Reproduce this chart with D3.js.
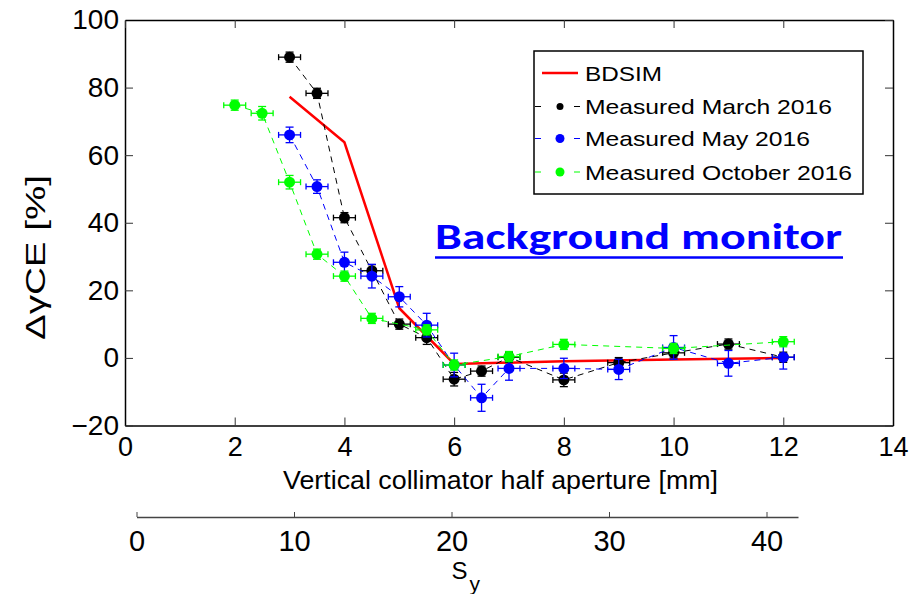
<!DOCTYPE html>
<html>
<head>
<meta charset="utf-8">
<script src="https://cdn.jsdelivr.net/npm/d3@7"></script>
<style>
  body { margin: 0; background: #fff; }
  svg { display: block; font-family: "Liberation Sans", Arial, Helvetica, sans-serif; }
</style>
</head>
<body>
<div id="dataViz"></div>
<script>
const width = 914;
const height = 594;
const margin = { top: 20, right: 21, bottom: 168.5, left: 125 };

// BDSIM simulation
const simX = [3, 4, 5, 6, 8, 10, 12];
const simY = [77.3, 63.8, 14.7, -1.8, -1.0, -0.5, 0];

// Measured March 2016
const marchX = [3, 3.5, 4, 4.5, 5, 5.5, 6, 6.5, 7, 8, 9, 10, 11, 12];
const marchY = [89, 78.3, 41.5, 25.8, 10, 6, -6.3, -3.9, 0.2, -6.5, -1.4, 1.5, 4.1, 0.2];
const marchErr = [1.5, 1.5, 1.5, 1.8, 1.5, 2, 2, 1.5, 1.5, 2, 1.5, 1.5, 1.5, 1.5];

// Measured May 2016
const mayX = [3, 3.5, 4, 4.5, 5, 5.5, 6, 6.5, 7, 8, 9, 10, 11, 12];
const mayY = [66, 50.7, 28.3, 24.2, 18.1, 9.7, -2.1, -11.8, -3.1, -3.1, -3.4, 3.1, -1.6, 0.2];
const mayErr = [2.3, 2, 3, 3.5, 3, 3.5, 3.5, 4, 3.5, 3, 3, 3.5, 3.8, 3.5];

// Measured October 2016
const octX = [2, 2.5, 3, 3.5, 4, 4.5, 5.5, 6, 7, 8, 10, 12];
const octY = [74.8, 72.4, 52, 30.7, 24.2, 11.7, 8.3, -2.1, 0.4, 4, 2.8, 4.8];
const octErr = [1.5, 2, 2, 1.5, 1.5, 1.5, 1.5, 1.5, 1.5, 1.5, 1.5, 1.5];

const xErr = 0.2;

const xTicks = [0, 2, 4, 6, 8, 10, 12, 14];
const yTicks = [-20, 0, 20, 40, 60, 80, 100];
const sigmaTicks = [0, 10, 20, 30, 40];

const colours = {
  sim: "#ff0000",
  march: "#000000",
  may: "#0000ff",
  oct: "#00ff00",
  title: "#0000ff"
};

const container = d3.select("#dataViz");
const svg = container.append("svg")
  .attr("width", width)
  .attr("height", height)
  .attr("viewBox", [0, 0, width, height]);

const xScale = d3.scaleLinear()
  .domain([0, 14])
  .range([margin.left, width - margin.right]);

const yScale = d3.scaleLinear()
  .domain([-20, 100])
  .range([height - margin.bottom, margin.top]);

// second axis in units of beam sigma
const sScale = d3.scaleLinear()
  .domain([0, 42])
  .range([136.5, 798]);

const plotBottom = height - margin.bottom;

// Axes (matlab style box, inward ticks)
const xAxis = d3.axisBottom(xScale).tickValues(xTicks).tickSizeInner(-8).tickSizeOuter(0).tickPadding(11);
const yAxis = d3.axisLeft(yScale).tickValues(yTicks)
  .tickSizeInner(-8).tickSizeOuter(0).tickPadding(6)
  .tickFormat(d => d < 0 ? "\u2212" + Math.abs(d) : d);
const xAxisTop = d3.axisTop(xScale).tickValues(xTicks).tickSizeInner(-8).tickSizeOuter(0).tickFormat("");
const yAxisRight = d3.axisRight(yScale).tickValues(yTicks).tickSizeInner(-8).tickSizeOuter(0).tickFormat("");

svg.append("g")
  .attr("class", "x-axis")
  .attr("transform", `translate(0, ${plotBottom})`)
  .call(xAxis)
  .selectAll("text")
  .style("font-size", "27px")
  .attr("fill", "#000");

svg.append("g")
  .attr("class", "y-axis")
  .attr("transform", `translate(${margin.left}, 0)`)
  .call(yAxis)
  .selectAll("text")
  .style("font-size", "28px")
  .attr("fill", "#000");

svg.append("g")
  .attr("transform", `translate(0, ${margin.top})`)
  .call(xAxisTop);

svg.append("g")
  .attr("transform", `translate(${width - margin.right}, 0)`)
  .call(yAxisRight);

svg.selectAll(".domain").attr("stroke", "#000").attr("stroke-width", 1.5);
svg.selectAll(".tick line").attr("stroke", "#333");

// BDSIM line
const simData = simX.map((x, i) => ({ x: x, y: simY[i] }));
const line = d3.line()
  .x(d => xScale(d.x))
  .y(d => yScale(d.y));

svg.append("path")
  .datum(simData)
  .attr("fill", "none")
  .attr("stroke", colours.sim)
  .attr("stroke-width", 2.5)
  .attr("d", line);

// measured series
const measured = [
  { name: "Measured March 2016", colour: colours.march, r: 5.5, xs: marchX, ys: marchY, errs: marchErr },
  { name: "Measured May 2016", colour: colours.may, r: 5.5, xs: mayX, ys: mayY, errs: mayErr },
  { name: "Measured October 2016", colour: colours.oct, r: 5.5, xs: octX, ys: octY, errs: octErr }
];

measured.forEach(s => {
  const pts = s.xs.map((x, i) => ({ x: x, y: s.ys[i], e: s.errs[i] }));
  const g = svg.append("g");

  g.append("path")
    .datum(pts)
    .attr("fill", "none")
    .attr("stroke", s.colour)
    .attr("stroke-width", 1)
    .attr("stroke-dasharray", "6,5")
    .attr("d", line);

  const eb = g.selectAll(".err")
    .data(pts)
    .enter()
    .append("g")
    .attr("stroke", s.colour)
    .attr("stroke-width", 1.3);

  // vertical error bars
  eb.append("line")
    .attr("x1", d => xScale(d.x)).attr("x2", d => xScale(d.x))
    .attr("y1", d => yScale(d.y - d.e)).attr("y2", d => yScale(d.y + d.e));
  eb.append("line")
    .attr("x1", d => xScale(d.x) - 4).attr("x2", d => xScale(d.x) + 4)
    .attr("y1", d => yScale(d.y + d.e)).attr("y2", d => yScale(d.y + d.e));
  eb.append("line")
    .attr("x1", d => xScale(d.x) - 4).attr("x2", d => xScale(d.x) + 4)
    .attr("y1", d => yScale(d.y - d.e)).attr("y2", d => yScale(d.y - d.e));

  // horizontal error bars
  eb.append("line")
    .attr("x1", d => xScale(d.x - xErr)).attr("x2", d => xScale(d.x + xErr))
    .attr("y1", d => yScale(d.y)).attr("y2", d => yScale(d.y));
  eb.append("line")
    .attr("x1", d => xScale(d.x - xErr)).attr("x2", d => xScale(d.x - xErr))
    .attr("y1", d => yScale(d.y) - 3).attr("y2", d => yScale(d.y) + 3);
  eb.append("line")
    .attr("x1", d => xScale(d.x + xErr)).attr("x2", d => xScale(d.x + xErr))
    .attr("y1", d => yScale(d.y) - 3).attr("y2", d => yScale(d.y) + 3);

  g.selectAll(".dot")
    .data(pts)
    .enter()
    .append("circle")
    .attr("cx", d => xScale(d.x))
    .attr("cy", d => yScale(d.y))
    .attr("r", s.r)
    .attr("fill", s.colour);
});

// Legend
const legend = svg.append("g");
legend.append("rect")
  .attr("x", 534).attr("y", 51)
  .attr("width", 329).attr("height", 143)
  .attr("fill", "#fff")
  .attr("stroke", "#000")
  .attr("stroke-width", 1.5);

const legendItems = [
  { name: "BDSIM", colour: colours.sim, len: 77, marker: false },
  { name: measured[0].name, colour: colours.march, len: 247, marker: true, r: 3.5 },
  { name: measured[1].name, colour: colours.may, len: 225, marker: true, r: 4.5 },
  { name: measured[2].name, colour: colours.oct, len: 267, marker: true, r: 4.5 }
];
const legendY = [73, 106.5, 138.5, 172];

legendItems.forEach((d, i) => {
  const y = legendY[i];
  if (d.marker) {
    legend.append("line")
      .attr("x1", 535).attr("x2", 541).attr("y1", y).attr("y2", y)
      .attr("stroke", d.colour).attr("stroke-width", 1);
    legend.append("line")
      .attr("x1", 574).attr("x2", 580).attr("y1", y).attr("y2", y)
      .attr("stroke", d.colour).attr("stroke-width", 1);
    legend.append("circle")
      .attr("cx", 560).attr("cy", y).attr("r", d.r)
      .attr("fill", d.colour);
  } else {
    legend.append("line")
      .attr("x1", 542).attr("x2", 578).attr("y1", y).attr("y2", y)
      .attr("stroke", d.colour).attr("stroke-width", 2.5);
  }
  legend.append("text")
    .attr("x", 585)
    .attr("y", y + 7.5)
    .attr("textLength", d.len)
    .attr("lengthAdjust", "spacingAndGlyphs")
    .style("font-size", "21px")
    .text(d.name);
});

// Title annotation
svg.append("text")
  .attr("x", 435)
  .attr("y", 248.5)
  .attr("textLength", 407)
  .attr("lengthAdjust", "spacingAndGlyphs")
  .style("font-family", "Carlito, Lato, 'Open Sans', sans-serif")
  .style("font-weight", "bold")
  .style("font-size", "37px")
  .attr("fill", colours.title)
  .text("Background monitor");

svg.append("line")
  .attr("x1", 435).attr("x2", 843)
  .attr("y1", 257.5).attr("y2", 257.5)
  .attr("stroke", colours.title)
  .attr("stroke-width", 2.5);

// Label for the x-axis
svg.append("text")
  .attr("x", 500.5)
  .attr("y", 488.5)
  .attr("textLength", 435)
  .attr("lengthAdjust", "spacingAndGlyphs")
  .style("text-anchor", "middle")
  .style("font-size", "25.5px")
  .text("Vertical collimator half aperture [mm]");

// Label for the y-axis
svg.append("text")
  .attr("transform", "translate(45, 257.5) rotate(-90)")
  .attr("textLength", 165)
  .attr("lengthAdjust", "spacingAndGlyphs")
  .style("text-anchor", "middle")
  .style("font-size", "28px")
  .text("\u0394\u03b3CE [%]");

// Second axis in sigma units
const sAxis = d3.axisBottom(sScale).tickValues(sigmaTicks).tickSizeInner(-5).tickSizeOuter(0).tickPadding(13);
const sG = svg.append("g")
  .attr("transform", "translate(0, 517)")
  .call(sAxis);
sG.selectAll("text").style("font-size", "29px").attr("fill", "#000");
sG.select(".domain").attr("stroke", "#444").attr("stroke-width", 1.5);
sG.selectAll(".tick line").attr("stroke", "#444");

const sLabel = svg.append("text")
  .attr("x", 451.5)
  .attr("y", 578.5)
  .style("font-size", "24px");
sLabel.append("tspan").text("S");
sLabel.append("tspan")
  .attr("x", 469.5)
  .attr("y", 591)
  .style("font-size", "21px")
  .text("y");
</script>
</body>
</html>
